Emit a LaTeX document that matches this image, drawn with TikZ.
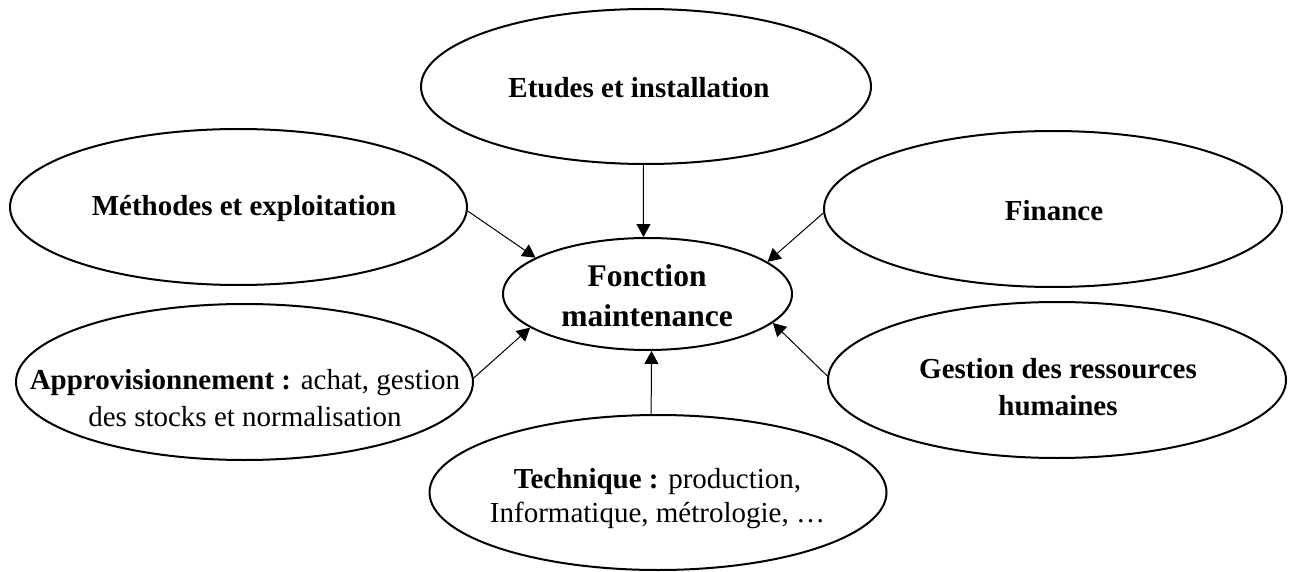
\documentclass[tikz,border=0pt]{standalone}
\usepackage{fontspec}
\setmainfont{Liberation Serif}
\usetikzlibrary{shapes.geometric,arrows.meta}
\begin{document}
\begin{tikzpicture}[x=1pt,y=-1pt,
  bubble/.style={ellipse,draw,line width=2pt,inner sep=0pt,
                 minimum width=457pt,minimum height=156pt},
  hub/.style={ellipse,draw,line width=2pt,inner sep=0pt,
              minimum width=289pt,minimum height=112pt},
  txt/.style={inner sep=0pt,anchor=base,align=center,
              font=\fontsize{29}{37}\selectfont},
  arr/.style={-{Triangle[length=13pt,width=14pt]},line width=1pt}]
\useasboundingbox (0,0) rectangle (1290,572);

% outer domains and the central function
\node[bubble,minimum width=450pt,minimum height=155pt] (et) at (646,86.5) {};
\node[bubble] (met) at (238.5,207) {};
\node[bubble,minimum width=458pt] (fin) at (1053,209) {};
\node[hub] (c) at (647.5,294) {};
\node[bubble] (appro) at (244.5,382) {};
\node[bubble,minimum width=458pt] (grh) at (1057,380) {};
\node[bubble,minimum height=155pt] (tech) at (658,492.5) {};

% texts (multi-line texts are placed by the baseline of their last line)
\node[txt] (et-t) at (639,98) {\textbf{Etudes et installation}};
\node[txt] (met-t) at (244,215) {\textbf{Méthodes et exploitation}};
\node[txt] (fin-t) at (1054,220.7) {\textbf{Finance}};
\node[txt,font=\fontsize{31.5}{40}\selectfont] (c-t) at (647,326.7)
  {\textbf{Fonction}\\\textbf{maintenance}};
\node[txt] (appro-t) at (245,426)
  {\textbf{Approvisionnement :} achat, gestion\\des stocks et normalisation};
\node[txt,font=\fontsize{29}{36.7}\selectfont] (grh-t) at (1058,415)
  {\textbf{Gestion des ressources}\\\textbf{humaines}};
\node[txt,font=\fontsize{29}{33.5}\selectfont] (tech-t) at (657.5,522)
  {\textbf{Technique :} production,\\Informatique, métrologie, …};

% connectors towards the central function
\draw[arr] (et.-92) -- (c.94.6);
\draw[arr] (met.-1) -- (c.162);
\draw[arr] (fin.181) -- (c.15);
\draw[arr] (appro.1) -- (c.196.5);
\draw[arr] (grh.179) -- (c.-13.5);
\draw[arr] (tech.95) -- (c.-86);
\end{tikzpicture}
\end{document}
